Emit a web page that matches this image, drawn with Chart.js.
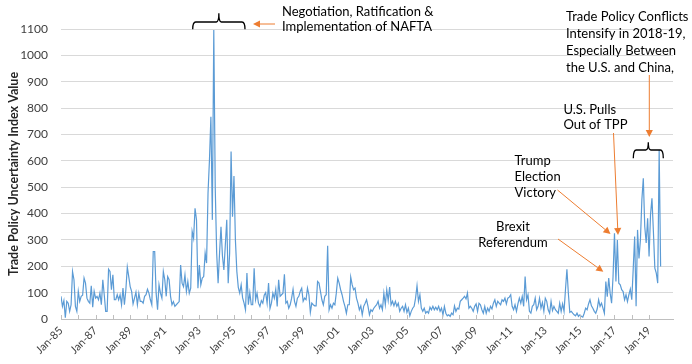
<!DOCTYPE html>
<html>
<head>
<meta charset="utf-8">
<script src="https://cdn.jsdelivr.net/npm/chart.js@4.4.1/dist/chart.umd.min.js"></script>
<style>
  html, body { margin: 0; padding: 0; background: #fff; }
  #wrap { width: 692px; height: 364px; }
</style>
</head>
<body>
<div id="wrap"><canvas id="tpu" width="692" height="364"></canvas></div>
<script>
// monthly trade policy uncertainty index, one array per year (Jan..Dec)
var y1985 = [86,48,70,5,67,60,29,54,180,149,48,29];
var y1986 = [105,67,86,90,155,136,79,67,60,126,45,105];
var y1987 = [79,86,73,98,54,149,92,29,29,189,180,111];
var y1988 = [168,73,73,92,73,92,54,117,54,111,197,161];
var y1989 = [123,105,57,79,102,54,98,67,67,60,86,92];
var y1990 = [113,98,73,54,256,256,98,35,130,98,79,180];
var y1991 = [149,86,161,149,86,54,66,48,54,60,66,205];
var y1992 = [136,123,167,104,142,98,117,332,306,420,376,117];
var y1993 = [205,130,155,161,250,212,477,603,767,376,1096,500];
var y1994 = [250,136,250,350,240,186,280,376,136,250,635,388];
var y1995 = [542,300,180,120,98,130,80,60,35,174,54,100];
var y1996 = [54,54,192,73,98,60,48,70,60,90,100,60];
var y1997 = [136,40,60,98,79,113,48,149,86,92,98,170];
var y1998 = [60,67,41,54,79,113,67,48,79,86,105,117];
var y1999 = [67,79,73,117,92,25,60,54,50,50,142,136];
var y2000 = [105,73,54,86,92,278,35,54,41,60,54,98];
var y2001 = [155,136,111,92,67,48,22,54,54,159,130,111];
var y2002 = [117,79,60,35,50,16,48,60,73,48,16,35];
var y2003 = [29,41,48,54,67,41,54,35,98,54,111,70];
var y2004 = [121,54,67,50,67,48,60,29,41,48,29,54];
var y2005 = [25,41,12,29,41,48,79,126,67,92,41,29];
var y2006 = [41,22,29,22,45,35,48,35,45,35,48,29];
var y2007 = [41,16,48,22,12,16,10,22,16,50,29,41];
var y2008 = [38,67,73,79,86,76,98,41,48,41,29,48];
var y2009 = [57,29,60,54,35,22,48,22,41,29,48,38];
var y2010 = [60,73,48,67,60,54,73,67,79,57,79,83];
var y2011 = [92,48,35,54,29,57,79,60,86,48,161,73];
var y2012 = [92,29,22,48,54,79,35,48,79,41,63,29];
var y2013 = [79,67,35,22,67,32,48,35,29,22,60,29];
var y2014 = [57,29,111,189,98,25,29,22,16,12,22,10];
var y2015 = [16,10,7,22,41,35,57,73,50,41,29,22];
var y2016 = [38,73,48,60,41,22,142,85,155,98,60,160];
var y2017 = [325,142,300,136,130,111,104,73,92,66,92,113];
var y2018 = [73,190,313,48,338,230,300,452,534,351,288,382];
var y2019 = [237,395,458,332,193,174,136,641,199];

var tickLabels = ['Jan-85','Jan-87','Jan-89','Jan-91','Jan-93','Jan-95','Jan-97','Jan-99',
  'Jan-01','Jan-03','Jan-05','Jan-07','Jan-09','Jan-11','Jan-13','Jan-15','Jan-17','Jan-19'];
var yTicks = [0,100,200,300,400,500,600,700,800,900,1000,1100];

var values = [].concat(y1985,y1986,y1987,y1988,y1989,y1990,y1991,y1992,y1993,y1994,
  y1995,y1996,y1997,y1998,y1999,y2000,y2001,y2002,y2003,y2004,y2005,y2006,y2007,
  y2008,y2009,y2010,y2011,y2012,y2013,y2014,y2015,y2016,y2017,y2018,y2019);
var points = values.map(function(v, i) { return {x: i, y: v}; });

// annotation layout (pixels)
var notes = [
  {lines: ['Negotiation, Ratification &', 'Implementation of NAFTA'], x: 282, y: 15.5, lh: 15.3, align: 'left'},
  {lines: ['Trade Policy Conflicts', 'Intensify in 2018-19,', 'Especially Between', 'the U.S. and China,'], x: 566, y: 20.5, lh: 17.2, align: 'left'},
  {lines: ['U.S. Pulls', 'Out of TPP'], x: 563.5, y: 113.5, lh: 15, align: 'left'},
  {lines: ['Trump', 'Election', 'Victory'], x: 514.5, y: 165, lh: 16, align: 'left'},
  {lines: ['Brexit', 'Referendum'], x: 513, y: 230.5, lh: 16, align: 'center'}
];
var arrows = [[275, 24, 253, 24], [649.3, 75, 649.3, 137], [613.5, 133, 618, 235],
  [557.5, 190, 610.5, 234], [558, 239, 603.3, 271.7]];
var braces = [[192.7, 245, 29.3, 22, 13.3], [633.3, 663.3, 158.3, 150, 142.3]];

var annotate = {
  id: 'annotate',
  afterDraw: function(chart) {
    var ctx = chart.ctx, xs = chart.scales.x, area = chart.chartArea;
    ctx.save();
    // yearly tick marks on the date axis
    ctx.strokeStyle = '#BFBFBF';
    ctx.lineWidth = 1;
    for (var m = 0; m <= values.length; m += 12) {
      var tx = Math.round(xs.getPixelForValue(m)) + 0.5;
      ctx.beginPath();
      ctx.moveTo(tx, area.bottom - 4);
      ctx.lineTo(tx, area.bottom);
      ctx.stroke();
    }
    // braces
    ctx.strokeStyle = '#000';
    ctx.lineWidth = 1.3;
    braces.forEach(function(b) {
      var x0 = b[0], x1 = b[1], yEnd = b[2], yBar = b[3], yNub = b[4], xc = (x0 + x1) / 2;
      ctx.beginPath();
      ctx.moveTo(x0, yEnd);
      ctx.quadraticCurveTo(x0, yBar, x0 + 3, yBar);
      ctx.lineTo(xc - 2.5, yBar);
      ctx.quadraticCurveTo(xc, yBar, xc, yNub);
      ctx.quadraticCurveTo(xc, yBar, xc + 2.5, yBar);
      ctx.lineTo(x1 - 3, yBar);
      ctx.quadraticCurveTo(x1, yBar, x1, yEnd);
      ctx.stroke();
    });
    // arrows
    ctx.strokeStyle = '#ED7D31';
    ctx.fillStyle = '#ED7D31';
    ctx.lineWidth = 1;
    arrows.forEach(function(a) {
      var ang = Math.atan2(a[3] - a[1], a[2] - a[0]), L = 7, W = 3.6;
      var bx = a[2] - L * Math.cos(ang), by = a[3] - L * Math.sin(ang);
      ctx.beginPath();
      ctx.moveTo(a[0], a[1]);
      ctx.lineTo(bx, by);
      ctx.stroke();
      ctx.beginPath();
      ctx.moveTo(a[2], a[3]);
      ctx.lineTo(bx + W * Math.sin(ang), by - W * Math.cos(ang));
      ctx.lineTo(bx - W * Math.sin(ang), by + W * Math.cos(ang));
      ctx.closePath();
      ctx.fill();
    });
    // texts
    ctx.fillStyle = '#000';
    ctx.font = '13px Lato';
    ctx.textBaseline = 'alphabetic';
    notes.forEach(function(n) {
      ctx.textAlign = n.align;
      n.lines.forEach(function(t, i) { ctx.fillText(t, n.x, n.y + i * n.lh); });
    });
    ctx.restore();
  }
};

new Chart(document.getElementById('tpu'), {
  type: 'line',
  data: {
    datasets: [{
      data: points,
      borderColor: '#5B9BD5',
      borderWidth: 1.2,
      pointRadius: 0,
      tension: 0,
      fill: false
    }]
  },
  options: {
    responsive: false,
    animation: false,
    devicePixelRatio: 1,
    layout: { padding: { top: 29, right: 19, left: 0, bottom: 0 } },
    plugins: { legend: { display: false }, tooltip: { enabled: false } },
    scales: {
      x: {
        type: 'linear',
        min: 0,
        max: 424.6,
        grid: { display: false, drawTicks: false },
        border: { display: true, color: '#BFBFBF', width: 1 },
        ticks: {
          stepSize: 24,
          autoSkip: false,
          minRotation: 45,
          maxRotation: 45,
          padding: 5,
          color: '#404040',
          font: { family: 'Lato', size: 11 },
          callback: function(v) {
            if (v % 24 !== 0) return null;
            return tickLabels[v / 24] || '';
          }
        },
        afterFit: function(s) { s.height = 45; }
      },
      y: {
        min: yTicks[0],
        max: yTicks[yTicks.length - 1],
        afterBuildTicks: function(s) { s.ticks = yTicks.map(function(v) { return {value: v}; }); },
        grid: { color: '#D9D9D9', drawTicks: false },
        border: { display: false },
        ticks: {
          padding: 13,
          color: '#404040',
          font: { family: 'Lato', size: 12 },
          callback: function(v) { return String(v); }
        },
        title: {
          display: true,
          text: 'Trade Policy Uncertainty Index Value',
          color: '#262626',
          font: { family: 'Lato', size: 12.5, weight: 'bold' },
          padding: { top: 6, bottom: 0 }
        },
        afterFit: function(s) { s.width = 61; }
      }
    }
  },
  plugins: [annotate]
});
</script>
</body>
</html>
